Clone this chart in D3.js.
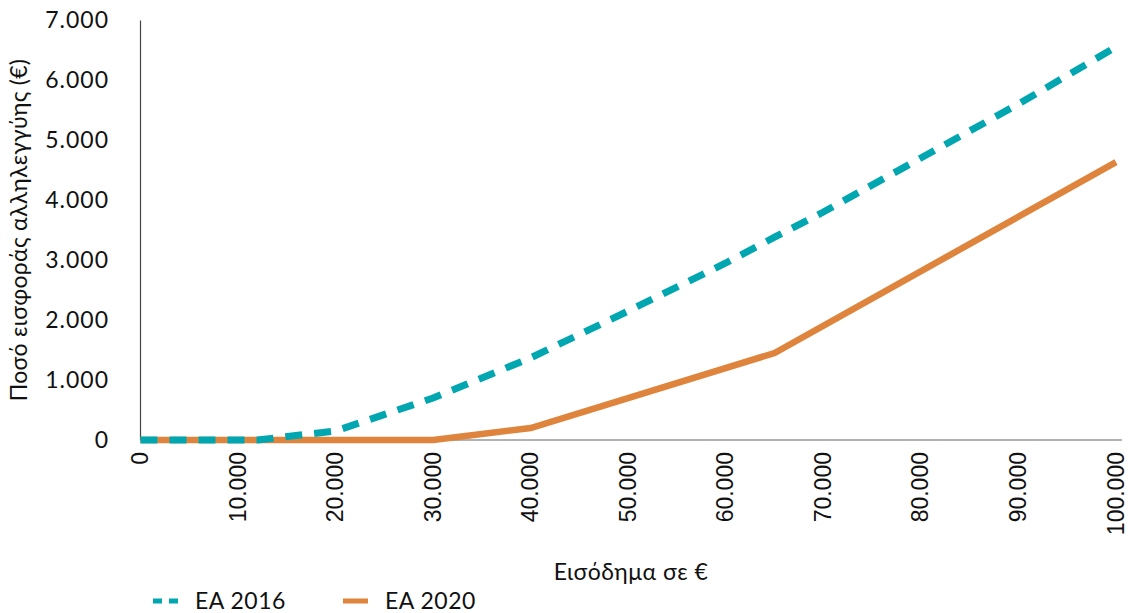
<!DOCTYPE html>
<html><head><meta charset="utf-8">
<script src="https://cdn.jsdelivr.net/npm/d3@7"></script>
<style>body{margin:0;background:#fff}svg{display:block}</style>
</head><body><svg id="c" width="1128" height="613"></svg>
<script>
const income2016 = [0, 10000, 12000, 20000, 30000, 40000, 50000, 60000, 65000, 70000, 80000, 90000, 100000];
const values2016 = [0, 0, 0, 150, 700, 1370, 2150, 2950, 3380, 3800, 4700, 5600, 6550];
const income2020 = [0, 10000, 20000, 30000, 40000, 65000, 100000];
const values2020 = [0, 0, 0, 0, 200, 1450, 4630];
const xTicks = [0, 10000, 20000, 30000, 40000, 50000, 60000, 70000, 80000, 90000, 100000];
const yTicks = [0, 1000, 2000, 3000, 4000, 5000, 6000, 7000];
const seriesNames = ["EA 2016", "EA 2020"];
const colors = ["#00A6B0", "#DF843D"];

const svg = d3.select("#c");
const x = d3.scaleLinear().domain([0, 100000]).range([140.5, 1116]);
const y = d3.scaleLinear().domain([0, 7000]).range([440, 20]);
const fmt = v => d3.format(",")(v).replace(/,/g, ".");
const font = "Lato, 'Open Sans', sans-serif";

// y axis
const ya = svg.append("g").attr("transform","translate(140,0)")
  .call(d3.axisLeft(y).tickValues(yTicks).tickFormat(fmt).tickSize(0).tickPadding(31));
ya.select(".domain").attr("stroke","#444").attr("stroke-width",1.2);
ya.selectAll("text").attr("font-family",font).attr("font-size",23).attr("letter-spacing","1px").attr("fill","#111");

// x axis
const xa = svg.append("g").attr("transform","translate(0,440)")
  .call(d3.axisBottom(x).tickValues(xTicks).tickFormat(fmt).tickSize(0));
xa.select(".domain").attr("stroke","#666").attr("stroke-width",1.2).attr("d","M140,0H1122");
xa.selectAll("text").attr("font-family","'Liberation Sans', Arial, sans-serif").attr("font-size",23).attr("fill","#111")
  .attr("transform","rotate(-90)").attr("text-anchor","end").attr("x",-12).attr("y",-1).attr("dy","0.35em");

// lines
const line = d3.line().x(d => x(d[0])).y(d => y(d[1]));
svg.append("path").datum(income2020.map((v,i)=>[v, values2020[i]]))
  .attr("d", line).attr("fill","none").attr("stroke",colors[1]).attr("stroke-width",6.5);
svg.append("path").datum(income2016.map((v,i)=>[v, values2016[i]]))
  .attr("d", line).attr("fill","none").attr("stroke",colors[0]).attr("stroke-width",7)
  .attr("stroke-dasharray","17,12");

// titles
svg.append("text").attr("transform","translate(27,230) rotate(-90)").attr("text-anchor","middle")
  .attr("font-family",font).attr("font-size",23).attr("letter-spacing","0.3px").attr("fill","#111").text("Ποσό εισφοράς αλληλεγγύης (€)");
svg.append("text").attr("x",631).attr("y",580).attr("text-anchor","middle")
  .attr("font-family",font).attr("font-size",23).attr("letter-spacing","0.5px").attr("fill","#111").text("Εισόδημα σε €");

// legend
const lx = [153, 343];
seriesNames.forEach((n,i)=>{
  const g = svg.append("g");
  g.append("line").attr("x1",lx[i]).attr("x2",lx[i]+25).attr("y1",601).attr("y2",601)
    .attr("stroke",colors[i]).attr("stroke-width",5).attr("stroke-dasharray", i===0 ? "9,7" : null);
  g.append("text").attr("x",lx[i]+42).attr("y",609).attr("font-family",font).attr("font-size",23)
    .attr("letter-spacing","0.5px").attr("fill","#111").text(n);
});
</script></body></html>
